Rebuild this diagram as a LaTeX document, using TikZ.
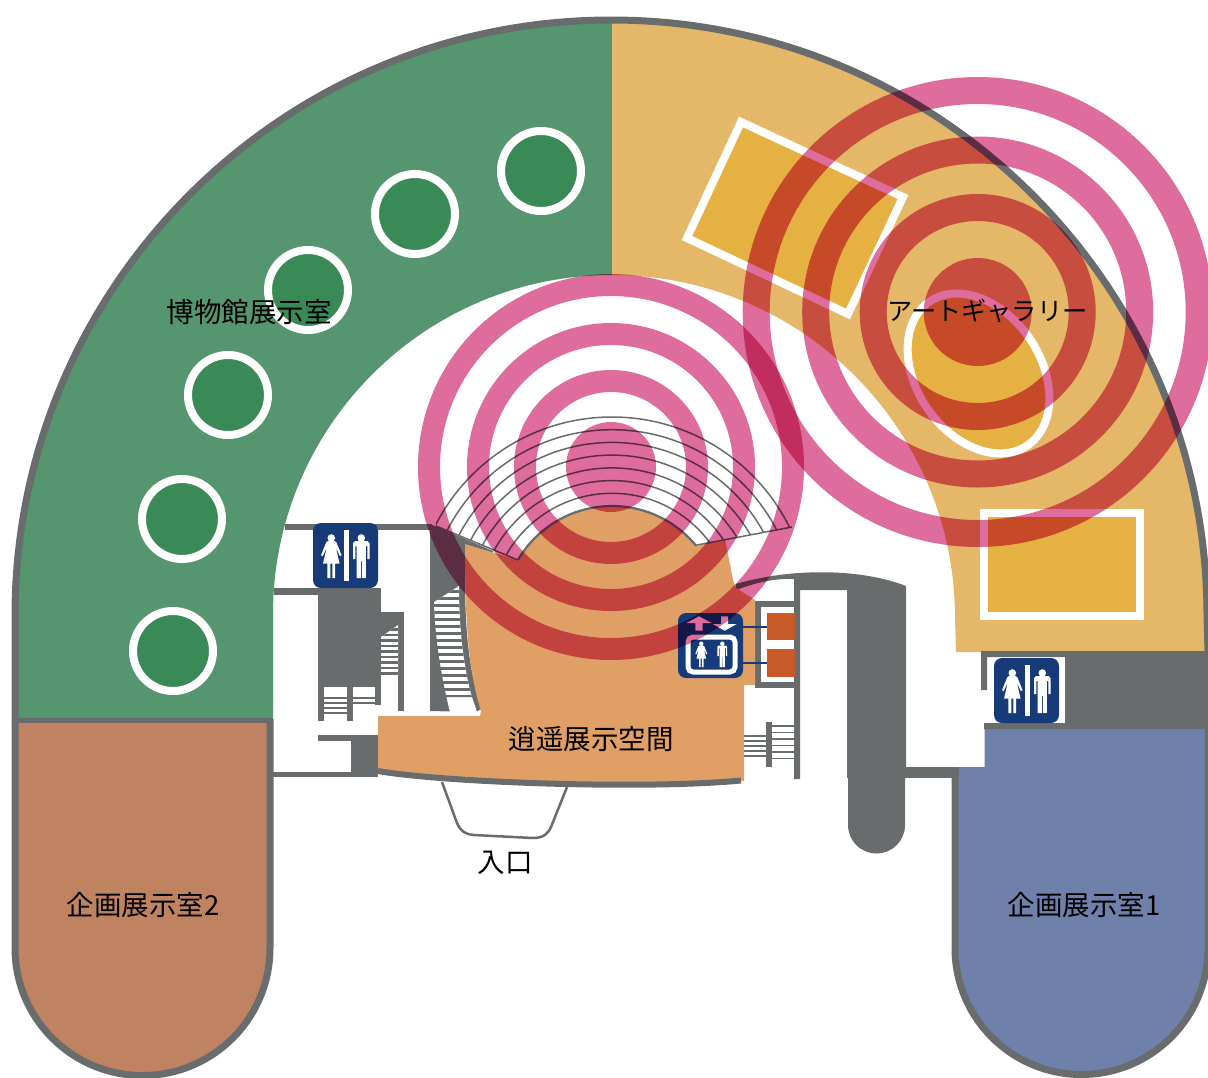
\documentclass[tikz,border=0pt]{standalone}
\usepackage{fontspec}
\setmainfont{Noto Sans CJK JP}
\definecolor{wall}{HTML}{696C6C}
\definecolor{museum}{HTML}{55956F}
\definecolor{spot}{HTML}{3A8A57}
\definecolor{art}{HTML}{E5B768}
\definecolor{artdeep}{HTML}{E5B143}
\definecolor{hall}{HTML}{DF9F65}
\definecolor{roomtwo}{HTML}{C08362}
\definecolor{roomone}{HTML}{6F80AB}
\definecolor{ringpink}{HTML}{DE6C9C}
\definecolor{navy}{HTML}{173A78}
\definecolor{lift}{HTML}{C85A2A}
\tikzset{
  x=1pt,y=-1pt,
  label/.style={font=\fontsize{27.5}{27.5}\selectfont,text=black,inner sep=0pt},
  spotc/.style={fill=spot,draw=white,line width=8pt},
  inset/.style={fill=artdeep,draw=white,line width=8pt},
  ringstroke/.style={draw=ringpink,blend mode=multiply},
  ladyfig/.pic={
    \fill[white] (0,3.8) circle[radius=3.8];
    \fill[white] (-3.5,7) -- (3.5,7) -- (5,8) -- (10.3,21) -- (8.6,22) -- (4.5,13) -- (8.3,29.5) -- (3.9,29.5) -- (3.9,44) -- (1,44) -- (1,29.5) -- (-1,29.5) -- (-1,44) -- (-3.9,44) -- (-3.9,29.5) -- (-8.3,29.5) -- (-4.5,13) -- (-8.6,22) -- (-10.3,21) -- (-5,8) -- cycle;
  },
  manfig/.pic={
    \fill[white] (0,3.8) circle[radius=3.8];
    \fill[white] (-6.5,7) -- (6.5,7) -- (8.3,9) -- (8.3,25) -- (6,25) -- (6,12) -- (4.6,12) -- (4.6,44) -- (0.5,44) -- (0.5,27) -- (-0.5,27) -- (-0.5,44) -- (-4.6,44) -- (-4.6,12) -- (-6,12) -- (-6,25) -- (-8.3,25) -- (-8.3,9) -- cycle;
  },
  restroom/.pic={
    \fill[navy,rounded corners=8pt] (0,0) rectangle (65,65);
    \fill[white] (31,6.5) rectangle (35.8,58);
    \pic at (18.3,11.2) {ladyfig};
    \pic at (48.3,11.2) {manfig};
  },
  elevator/.pic={
    \fill[navy,rounded corners=8pt] (0,0) rectangle (65,65);
    \draw[white,line width=5pt,rounded corners=5pt] (10,24) rectangle (57,59);
    \pic[scale=.58] at (23.3,28.5) {ladyfig};
    \pic[scale=.58] at (44.3,28.5) {manfig};
    \fill[white] (21,3.3) -- (33.5,10) -- (24.7,10) -- (24.7,17.7) -- (17.3,17.7) -- (17.3,10) -- (8.5,10) -- cycle;
    \fill[white] (46.7,17.7) -- (34.7,11) -- (43.2,11) -- (43.2,3.3) -- (50.2,3.3) -- (50.2,11) -- (58.7,11) -- cycle;
  }
}
\begin{document}
\begin{tikzpicture}
\path[use as bounding box] (0,0) rectangle (1208,1077);
\clip (0,0) rectangle (1208,1077);
% rooms
\fill[museum] (15,720) -- (15,616) arc[start angle=180,end angle=270,radius=596] -- (613,20) -- (613,275) -- (612,275) arc[start angle=270,end angle=180,radius=339] -- (273,720) -- cycle;
\fill[art] (612,20) arc[start angle=270,end angle=360,radius=596] -- (1208,652) -- (956,652) -- (955,618) arc[start angle=0,end angle=-90,radius=343] -- cycle;
\fill[roomtwo] (15,722) -- (15,948) arc[start angle=180,end angle=0,radius=127.5] -- (270,722) -- cycle;
\fill[roomone] (984.5,729) -- (1208,729) -- (1208,948) arc[start angle=0,end angle=180,radius=126.5] -- (955,767) -- (984.5,767) -- cycle;
% outlines
\draw[wall,line width=7pt] (15,722) -- (15,616) arc[start angle=180,end angle=360,radius=596] -- (1208,652);
\draw[wall,line width=7pt] (270,719) -- (270,948) arc[start angle=0,end angle=180,radius=127.5] -- (15,722);
\draw[wall,line width=7pt] (955,767) -- (955,948) arc[start angle=180,end angle=0,radius=126.5] -- (1208,729);
\draw[wall,line width=5pt] (12,720) -- (273,720);
% spots
\foreach \cx/\cy in {541/171,415/214,308/290,228/395,182/519,173/651}
  \draw[spotc] (\cx,\cy) circle[radius=40];
% art insets
\draw[inset] (741,122) -- (903,197) -- (848,314) -- (687,238) -- cycle;
\draw[inset] (984,512.5) rectangle (1139.5,616);
\draw[inset,rotate around={-55.8:(978.5,373.5)}] (978.5,373.5) ellipse[x radius=87,y radius=62];
% left walls
\fill[wall] (285,524) rectangle (432,530);
\fill[wall] (274,588) rectangle (318,595);
\fill[wall] (318,588) rectangle (381,687);
\fill[wall] (381,612) rectangle (404,637);
\fill[wall] (398,612) rectangle (404,711);
\fill[white] (381,637) -- (398,625) -- (398,676) -- (381,676) -- cycle;
\begin{scope}
  \clip (381,637) -- (398,625) -- (398,676) -- (381,676) -- cycle;
  \foreach \yy in {628,633.5,...,676} \fill[wall] (381,\yy) rectangle (398,\yy+2.6);
\end{scope}
\fill[wall] (318,687) rectangle (324,720.6);
\fill[wall] (347,687) rectangle (353,720.6);
\fill[wall] (375,687) rectangle (381,705);
\foreach \yy in {697,702,...,716} \fill[wall] (324,\yy) rectangle (347,\yy+2);
\foreach \yy in {697,702} \fill[wall] (353,\yy) rectangle (375,\yy+2);
\fill[wall] (318,735) rectangle (378,741);
\fill[wall] (351,741) rectangle (378,777);
\fill[wall] (273,772) rectangle (373,777);
% central stair wall
\fill[wall] (430,524) -- (493,551) -- (493,555) -- (466,546) .. controls (463,620) and (468,670) .. (482,709) -- (475,712) -- (430,711) -- cycle;
\fill[white] (434,602) -- (459,586) .. controls (459,630) and (464,670) .. (472,697) -- (477,712) -- (450,712) .. controls (442,680) and (435,640) .. (434,602) -- cycle;
\begin{scope}
  \clip (434,602) -- (459,586) .. controls (459,630) and (464,670) .. (472,697) -- (438,697) -- cycle;
  \foreach \yy in {590,597,...,695} \fill[wall] (430,\yy) rectangle (475,\yy+2.6);
\end{scope}
% right walls
\fill[wall] (736,584) .. controls (790,568) and (860,568) .. (906,586) -- (906,778) -- (905,778) -- (905,825) arc[start angle=0,end angle=180,radius=28.5] -- (848,778) -- (847,778) -- (847,590) -- (800,590) -- (800,779) -- (794,779) -- (794,579) .. controls (770,578) and (750,585) .. (736,590) -- cycle;
\fill[wall] (755,601) rectangle (800,607);
\fill[wall] (755,601) rectangle (761,688);
\fill[wall] (755,682) rectangle (800,688);
\fill[wall] (905,767) rectangle (959,778);
\fill[wall] (766,722) rectangle (772,767);
\foreach \yy in {735,740,...,757} \fill[wall] (744,\yy) rectangle (766,\yy+1.6);
\foreach \yy in {725,731.5,...,763} \fill[wall] (772,\yy) rectangle (794,\yy+1.6);
\fill[wall] (981,651) -- (1208,651) -- (1208,729) -- (984,729) -- (984,723) -- (1065,723) -- (1065,657) -- (987,657) -- (987,690) -- (981,690) -- cycle;
% hall
\fill[hall] (378,716) -- (480,716) -- (481,711) .. controls (468,670) and (465,620) .. (465,544) -- (518,560) arc[start angle=210.3,end angle=320.8,radius=109] -- (725,539) -- (733,580) -- (736,588) -- (755,600) -- (755,685) -- (744,685) -- (744,781) -- (741,780.5) .. controls (640,790) and (440,782) .. (378,771) -- cycle;
\draw[wall,line width=6pt] (378,771) .. controls (440,782) and (640,790) .. (741,780.5);
\draw[wall,line width=2.5pt] (442,782) -- (457,823) .. controls (461,832) and (465,834) .. (474,835) -- (533,838) .. controls (543,838) and (548,834) .. (551,827) -- (567,787);
% lift rooms
\fill[lift] (767,613) rectangle (795,640);
\fill[lift] (767,649) rectangle (795,677);
\draw[navy,line width=1.5pt] (743,627) -- (767,627);
\draw[navy,line width=1.5pt] (743,663) -- (767,663);
% fan of seats
\begin{scope}
  \clip (436,526) -- (518,560) -- (697,546) -- (792,527) -- (800,300) -- (430,300) -- cycle;
  \foreach \rr in {198,185.3,172.6,159.9,147.1,134.4,121.7}
    \draw[wall,line width=1.5pt] (612,615) circle[radius=\rr];
  \draw[wall,line width=2.2pt] (612,615) circle[radius=109];
\end{scope}
\draw[wall,line width=1.5pt] (436,526) -- (518,560);
\draw[wall,line width=1.5pt] (697,545) -- (792,527);
% icons
\pic at (313,523) {restroom};
\pic at (994,658) {restroom};
\pic at (678,613) {elevator};
% labels
\node[label] (museumlabel) at (249,312) {博物館展示室};
\node[label,font=\fontsize{25.2}{25.2}\selectfont] (artlabel) at (987.5,311) {アートギャラリー};
\node[label] (halllabel) at (591,739) {逍遥展示空間};
\node[label] (entrylabel) at (505,863) {入口};
\node[label] (tworoomlabel) at (143,905) {企画展示室2};
\node[label] (oneroomlabel) at (1084,905) {企画展示室1};
% sound rings
\fill[ringpink,blend mode=multiply] (611,467) circle[radius=45];
\draw[ringstroke,line width=22pt] (611,467) circle[radius=86];
\draw[ringstroke,line width=22pt] (611,467) circle[radius=133];
\draw[ringstroke,line width=22pt] (611,467) circle[radius=182];
\fill[ringpink,blend mode=multiply] (977.7,312) circle[radius=54];
\draw[ringstroke,line width=27pt] (977.7,312) circle[radius=104.5];
\draw[ringstroke,line width=27pt] (977.7,312) circle[radius=162];
\draw[ringstroke,line width=27pt] (977.7,312) circle[radius=221.5];
\end{tikzpicture}
\end{document}
